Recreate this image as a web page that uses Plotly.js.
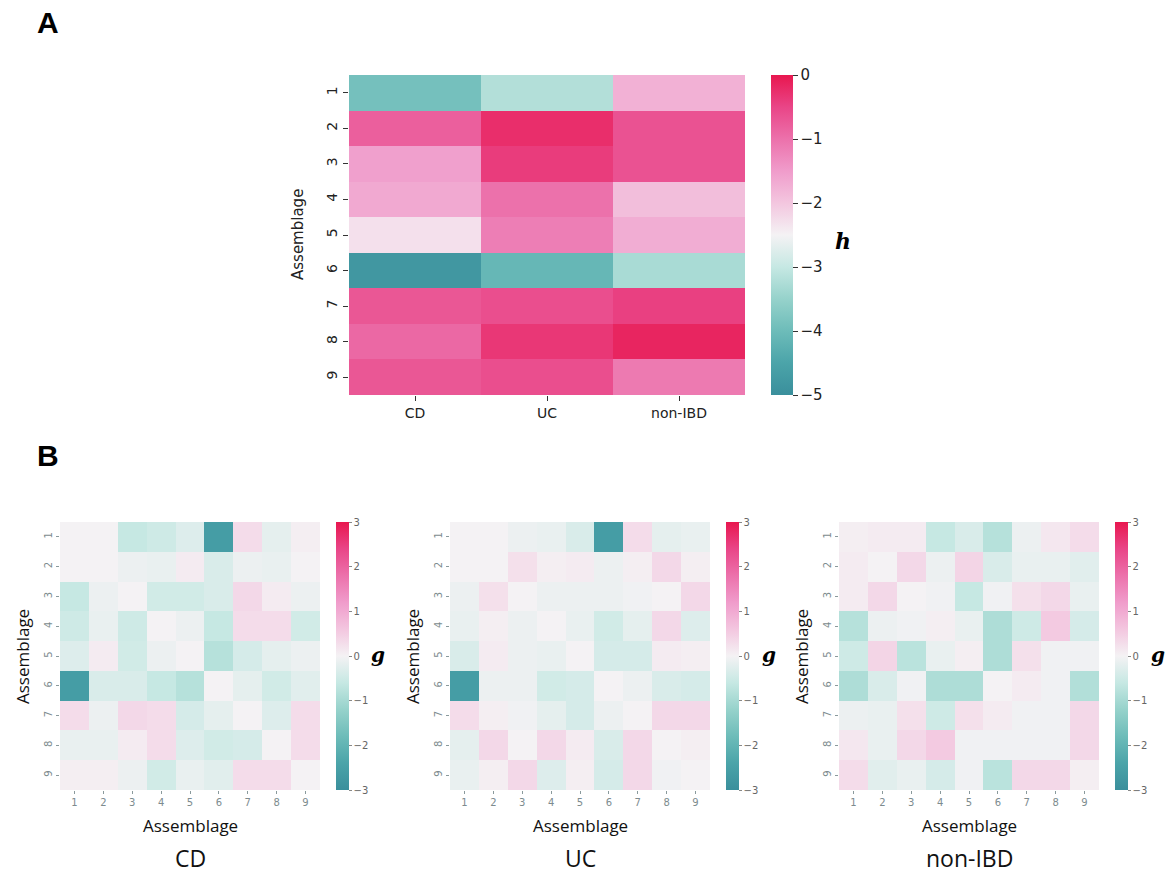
<!DOCTYPE html>
<html>
<head>
<meta charset="utf-8">
<script src="https://cdn.plot.ly/plotly-3.0.1.min.js"></script>
<style>html,body{margin:0;padding:0;background:#fff;}#chart{width:1176px;height:876px;}</style>
</head>
<body>
<div id="chart"></div>
<script>
// ---------- Data ----------
const groups = ['CD', 'UC', 'non-IBD'];
const assemblages = [1, 2, 3, 4, 5, 6, 7, 8, 9];

// Panel A: h per assemblage (rows) and group (columns)
const hCD    = [-3.9, -0.8, -1.55, -1.65, -2.3, -4.8, -0.7, -0.9, -0.7];
const hUC    = [-3.2, -0.25, -0.4, -1.0, -1.15, -4.1, -0.6, -0.35, -0.6];
const hNonIBD = [-1.75, -0.65, -0.65, -1.9, -1.7, -3.3, -0.45, -0.15, -1.1];

// Panel B: g interaction matrices (row = assemblage, col = assemblage)
const gCD = [
  [ 0.00,  0.00, -0.60, -0.50, -0.30, -2.60,  0.30, -0.20,  0.05],
  [ 0.00,  0.00, -0.10, -0.15,  0.10, -0.35, -0.10, -0.15,  0.00],
  [-0.60, -0.10,  0.00, -0.45, -0.45, -0.35,  0.35,  0.10, -0.10],
  [-0.50, -0.15, -0.50,  0.00, -0.10, -0.60,  0.30,  0.30, -0.45],
  [-0.30,  0.10, -0.45, -0.10,  0.00, -0.80, -0.40, -0.20, -0.10],
  [-2.60, -0.35, -0.35, -0.60, -0.80,  0.00, -0.20, -0.45, -0.25],
  [ 0.30, -0.10,  0.35,  0.30, -0.40, -0.20,  0.00, -0.30,  0.30],
  [-0.15, -0.15,  0.10,  0.30, -0.30, -0.45, -0.40,  0.00,  0.30],
  [ 0.05,  0.05, -0.10, -0.45, -0.15, -0.25,  0.30,  0.30,  0.00]
];
const gUC = [
  [ 0.00,  0.00, -0.10, -0.15, -0.35, -2.60,  0.30, -0.20, -0.15],
  [ 0.00,  0.00,  0.25,  0.05,  0.10, -0.10,  0.05,  0.35,  0.05],
  [-0.10,  0.25,  0.00, -0.10, -0.10, -0.10, -0.05,  0.00,  0.35],
  [-0.15,  0.05, -0.10,  0.00, -0.15, -0.45, -0.20,  0.35, -0.30],
  [-0.35,  0.10, -0.10, -0.15,  0.00, -0.40, -0.40,  0.10,  0.05],
  [-2.60, -0.10, -0.10, -0.45, -0.40,  0.00, -0.10, -0.35, -0.40],
  [ 0.30,  0.05, -0.05, -0.20, -0.40, -0.10,  0.00,  0.35,  0.35],
  [-0.20,  0.35,  0.00,  0.35,  0.10, -0.35,  0.35,  0.00,  0.05],
  [-0.15,  0.05,  0.35, -0.30,  0.05, -0.40,  0.35, -0.05,  0.00]
];
const gNonIBD = [
  [ 0.05,  0.10,  0.10, -0.60, -0.35, -0.80, -0.10,  0.15,  0.30],
  [ 0.10,  0.00,  0.35, -0.10,  0.40, -0.35, -0.15, -0.15, -0.25],
  [ 0.10,  0.35,  0.00, -0.05, -0.60, -0.05,  0.25,  0.35, -0.15],
  [-0.80, -0.10, -0.05,  0.05, -0.15, -0.90, -0.50,  0.55, -0.40],
  [-0.50,  0.40, -0.75, -0.15,  0.05, -0.90,  0.25, -0.05, -0.05],
  [-0.90, -0.35, -0.05, -0.90, -0.90,  0.00,  0.10, -0.05, -0.85],
  [-0.10, -0.15,  0.25, -0.50,  0.25,  0.10, -0.05, -0.05,  0.35],
  [ 0.15, -0.15,  0.35,  0.55, -0.05, -0.05, -0.05, -0.05,  0.35],
  [ 0.30, -0.25, -0.15, -0.40, -0.05, -0.75,  0.35,  0.35,  0.05]
];

// ---------- Helpers ----------
const W = 1176, H = 876;
const px = v => v / W;
const py = v => 1 - v / H;

const divScale = [
  [0.0, '#3a8f9c'], [0.1, '#4ba4a9'], [0.2, '#6dbcb9'], [0.3, '#96d2cb'],
  [0.4, '#c6e8e3'], [0.5, '#f4f2f4'], [0.6, '#f3c6df'], [0.7, '#f09ccb'],
  [0.8, '#ec71ab'], [0.9, '#e94587'], [1.0, '#e8174f']
];

const zA = assemblages.map((a, i) => [hCD[i], hUC[i], hNonIBD[i]]);

const traces = [];
traces.push({
  type: 'heatmap', z: zA, x: groups, y: assemblages,
  xaxis: 'x', yaxis: 'y', colorscale: divScale, zmin: -5, zmax: 0,
  xgap: 0, ygap: 0, hoverinfo: 'x+y+z',
  colorbar: {
    x: px(771), xanchor: 'left', xpad: 0, ypad: 0,
    y: py(75), yanchor: 'top', len: 320, lenmode: 'pixels',
    thickness: 22, thicknessmode: 'pixels', outlinewidth: 0,
    tickvals: [0, -1, -2, -3, -4, -5], ticks: 'outside', ticklen: 5,
    tickcolor: '#333', tickfont: {family: 'DejaVu Sans', size: 15, color: '#222'}
  }
});

const gMats = [gCD, gUC, gNonIBD];
const bLeft = [60, 450, 839];
const bWidth = 260;
const cbLeft = [336, 726, 1115];
gMats.forEach((m, k) => {
  traces.push({
    type: 'heatmap', z: m, x: assemblages, y: assemblages,
    xaxis: 'x' + (k + 2), yaxis: 'y' + (k + 2),
    colorscale: divScale, zmin: -3, zmax: 3, xgap: 0, ygap: 0,
    colorbar: {
      x: px(cbLeft[k]), xanchor: 'left', xpad: 0, ypad: 0,
      y: py(522), yanchor: 'top', len: 268, lenmode: 'pixels',
      thickness: 13, thicknessmode: 'pixels', outlinewidth: 0,
      tickvals: [3, 2, 1, 0, -1, -2, -3], ticks: 'outside', ticklen: 3,
      tickcolor: '#888', tickfont: {family: 'DejaVu Sans', size: 10, color: '#666'}
    }
  });
});

const layout = {
  width: W, height: H, margin: {l: 0, r: 0, t: 0, b: 0},
  paper_bgcolor: '#fff', plot_bgcolor: '#fff', showlegend: false,
  xaxis: {
    domain: [px(349), px(745)], anchor: 'y', showgrid: false, zeroline: false,
    showline: false, ticks: 'outside', ticklen: 5, tickcolor: '#333',
    tickfont: {family: 'DejaVu Sans', size: 14, color: '#222'}
  },
  yaxis: {
    domain: [py(395), py(75)], anchor: 'x', range: [9.5, 0.5], showgrid: false,
    zeroline: false, showline: false, ticks: 'outside', ticklen: 5, tickcolor: '#333',
    tickvals: assemblages, tickangle: -90,
    tickfont: {family: 'DejaVu Sans', size: 14, color: '#222'}
  },
  annotations: [
    {text: '<b>A</b>', x: px(48), y: py(22), xref: 'paper', yref: 'paper', showarrow: false,
     xanchor: 'center', yanchor: 'middle', font: {family: 'Liberation Sans', size: 30, color: '#000'}},
    {text: '<b>B</b>', x: px(48), y: py(455), xref: 'paper', yref: 'paper', showarrow: false,
     xanchor: 'center', yanchor: 'middle', font: {family: 'Liberation Sans', size: 30, color: '#000'}},
    {text: 'Assemblage', x: px(298), y: py(235), xref: 'paper', yref: 'paper', showarrow: false,
     textangle: -90, xanchor: 'center', yanchor: 'middle', font: {family: 'DejaVu Sans', size: 15, color: '#222'}},
    {text: '<b><i>h</i></b>', x: px(843), y: py(241), xref: 'paper', yref: 'paper', showarrow: false,
     xanchor: 'center', yanchor: 'middle', font: {family: 'DejaVu Serif', size: 22, color: '#000'}}
  ]
};

const subTitles = groups;
const subCenters = [190, 580, 969];
const yTitleX = [22, 412, 801];
const gX = [378, 769, 1158];
for (let k = 0; k < 3; k++) {
  const n = k + 2;
  layout['xaxis' + n] = {
    domain: [px(bLeft[k]), px(bLeft[k] + bWidth)], anchor: 'y' + n,
    range: [0.5, 9.5], tickvals: assemblages, showgrid: false, zeroline: false, showline: false,
    ticks: 'outside', ticklen: 3, tickcolor: '#8a9a9c',
    tickfont: {family: 'DejaVu Sans', size: 10, color: '#7d8b8e'}
  };
  layout['yaxis' + n] = {
    domain: [py(790), py(522)], anchor: 'x' + n,
    range: [9.5, 0.5], tickvals: assemblages, tickangle: -90, showgrid: false, zeroline: false, showline: false,
    ticks: 'outside', ticklen: 3, tickcolor: '#8a9a9c',
    tickfont: {family: 'DejaVu Sans', size: 10, color: '#7d8b8e'}
  };
  layout.annotations.push(
    {text: 'Assemblage', x: px(yTitleX[k]), y: py(657), xref: 'paper', yref: 'paper', showarrow: false,
     textangle: -90, xanchor: 'center', yanchor: 'middle', font: {family: 'Open Sans', size: 17, color: '#111'}},
    {text: 'Assemblage', x: px(bLeft[k] + bWidth / 2), y: py(825), xref: 'paper', yref: 'paper', showarrow: false,
     xanchor: 'center', yanchor: 'middle', font: {family: 'Open Sans', size: 17, color: '#111'}},
    {text: '<b><i>g</i></b>', x: px(gX[k]), y: py(655), xref: 'paper', yref: 'paper', showarrow: false,
     xanchor: 'center', yanchor: 'middle', font: {family: 'DejaVu Serif', size: 20, color: '#000'}},
    {text: subTitles[k], x: px(subCenters[k]), y: py(858), xref: 'paper', yref: 'paper', showarrow: false,
     xanchor: 'center', yanchor: 'middle', font: {family: 'Open Sans', size: 23, color: '#111'}}
  );
}

Plotly.newPlot('chart', traces, layout, {displayModeBar: false, staticPlot: true});
</script>
</body>
</html>
